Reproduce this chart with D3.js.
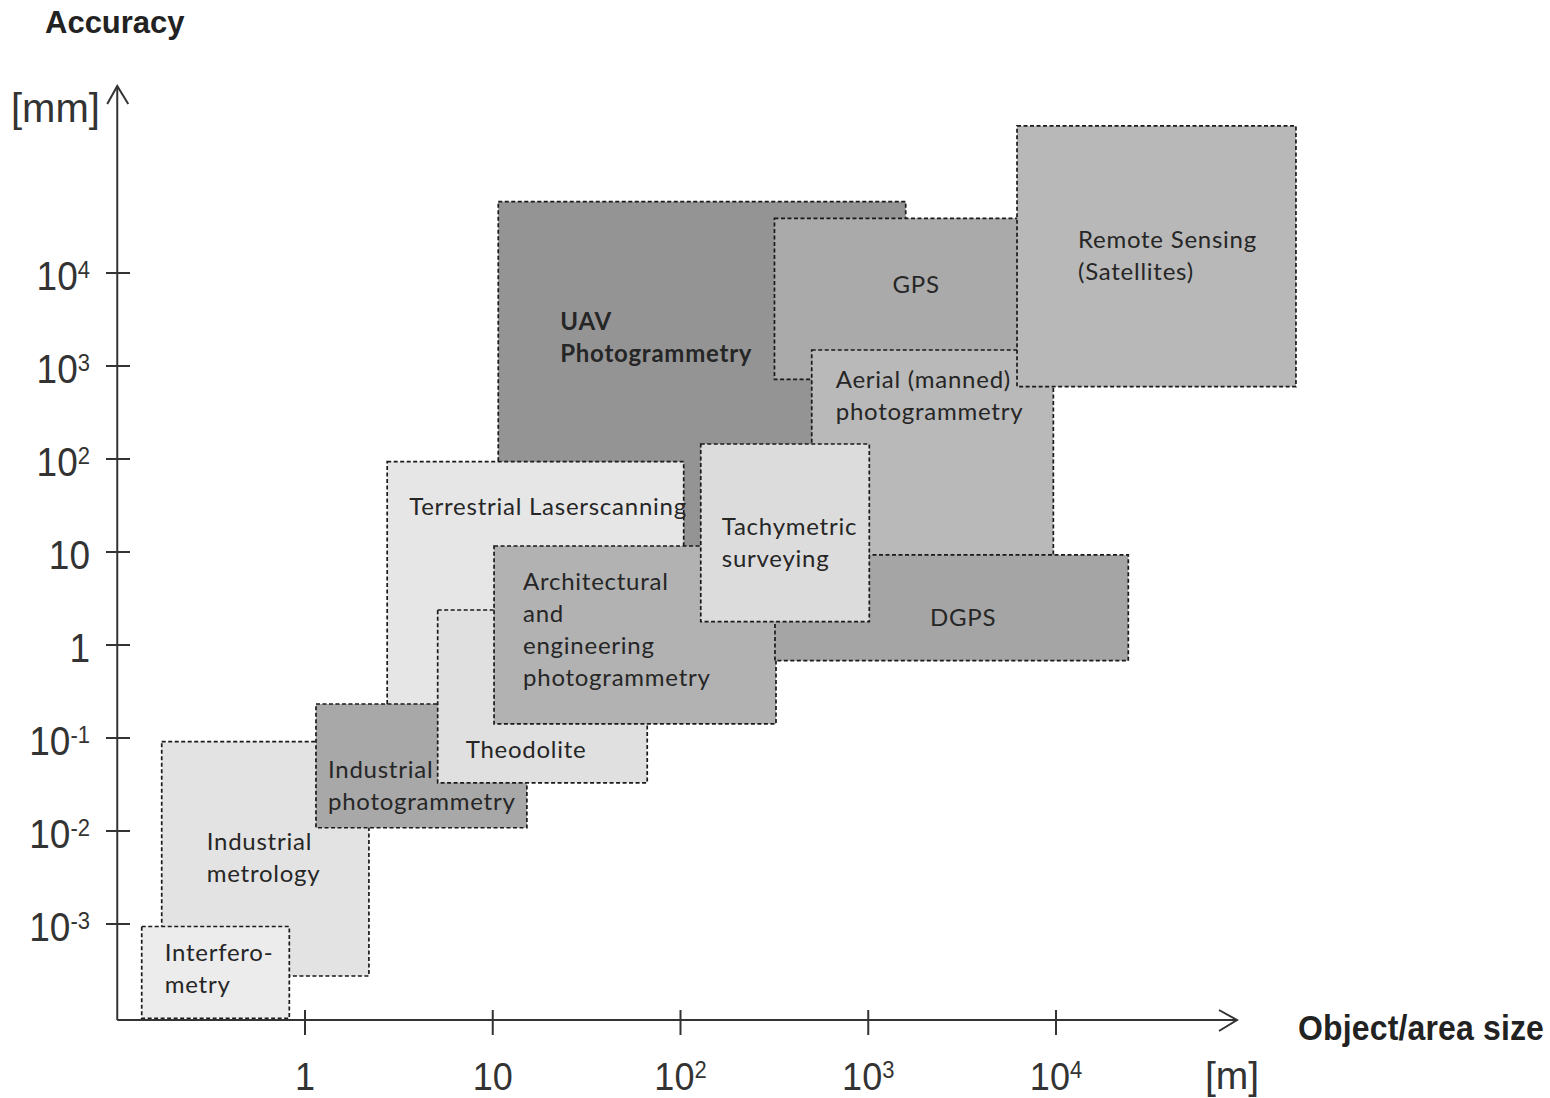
<!DOCTYPE html>
<html><head><meta charset="utf-8">
<script src="https://cdn.jsdelivr.net/npm/d3@7"></script>
<style>
html,body{margin:0;padding:0;background:#fff;}
svg{display:block;}
</style></head>
<body>
<svg id="chart" width="1550" height="1098"></svg>
<script>
// ---- data ----
const categories = ["UAV Photogrammetry","Terrestrial Laserscanning","Industrial metrology","Interferometry",
  "Industrial photogrammetry","Theodolite","Architectural and engineering photogrammetry","GPS",
  "Aerial (manned) photogrammetry","DGPS","Remote Sensing (Satellites)","Tachymetric surveying"];
// object/area size range [m]
const sizeFrom = [10.7, 2.74, 0.1725, 0.135, 1.144, 5.09, 10.16, 316.6, 500, 318.6, 6200, 128.2];
const sizeTo   = [1583, 104, 2.19, 0.825, 15.2, 66.5, 322.6, 8220, 9680, 24270, 189700, 1013];
// accuracy range [mm]
const accFrom  = [3.05, 0.19, 0.000276, 0.000097, 0.01084, 0.033, 0.1416, 719, 3.05, 0.678, 599, 1.78];
const accTo    = [58500, 93.5, 0.0912, 0.00094, 0.232, 2.38, 11.6, 38730, 1486, 9.29, 381000, 145];
// box label lines
const labelLines = [["UAV","Photogrammetry"],["Terrestrial Laserscanning"],["Industrial","metrology"],["Interfero-","metry"],
  ["Industrial","photogrammetry"],["Theodolite"],["Architectural","and","engineering","photogrammetry"],["GPS"],
  ["Aerial (manned)","photogrammetry"],["DGPS"],["Remote Sensing","(Satellites)"],["Tachymetric","surveying"]];
// ticks
const xTickValues = [1, 10, 100, 1000, 10000];
const xTickBase = ["1","10","10","10","10"];
const xTickSup  = ["","","2","3","4"];
const yTickValues = [0.001, 0.01, 0.1, 1, 10, 100, 1000, 10000];
const yTickBase = ["10","10","10","1","10","10","10","10"];
const yTickSup  = ["-3","-2","-1","","","2","3","4"];

// ---- styles (not data) ----
const fills = ["#949494","#e6e6e6","#e3e3e3","#ececec","#a8a8a8","#e0e0e0","#b2b2b2","#aaaaaa","#b9b9b9","#a5a5a5","#b8b8b8","#dcdcdc"];
const boldLabel = [true,false,false,false,false,false,false,false,false,false,false,false];
// label offset (px) from the box's top-left corner: left edge of text, centre of first line
const labelOffset = [[62,119],[22,44],[45,99],[23,25],[12,64],[28,139],[29,34],[118,65],[24,28],[155,62],[61,113],[21,82]];

const svg = d3.select("#chart");
const x = d3.scaleLog().domain([1, 10000]).range([305, 1056]);
const y = d3.scaleLog().domain([0.001, 10000]).range([924, 273]);

const axisY0 = 1020, axisX0 = x(0.1);

// boxes
const boxes = categories.map((c,i)=>({c,i,x0:x(sizeFrom[i]),x1:x(sizeTo[i]),y0:y(accTo[i]),y1:y(accFrom[i])}));
const g = svg.append("g");
boxes.forEach(b=>{
  g.append("rect").attr("x",b.x0).attr("y",b.y0).attr("width",b.x1-b.x0).attr("height",b.y1-b.y0)
    .attr("fill",fills[b.i]).attr("stroke","#1a1a1a").attr("stroke-width",1.7).attr("stroke-dasharray","4,2.5");
  const t = g.append("text").attr("font-family","Lato, 'Open Sans', sans-serif").attr("font-size",24)
    .attr("letter-spacing","0.75px").attr("fill","#262626").attr("font-weight",boldLabel[b.i]?"bold":"normal");
  labelLines[b.i].forEach((ln,k)=>{
    t.append("tspan").attr("x",b.x0+labelOffset[b.i][0]).attr("y",b.y0+labelOffset[b.i][1]+k*32)
      .attr("dominant-baseline","central").text(ln);
  });
});

// axes
const ax = svg.append("g").attr("stroke","#333").attr("stroke-width",2).attr("fill","none");
ax.append("line").attr("x1",axisX0).attr("x2",1237).attr("y1",axisY0).attr("y2",axisY0);
ax.append("polyline").attr("points",`1219,1010 1237,${axisY0} 1219,1031`);
ax.append("line").attr("x1",axisX0).attr("x2",axisX0).attr("y1",axisY0).attr("y2",86);
ax.append("polyline").attr("points",`${axisX0-10},104 ${axisX0},86 ${axisX0+11},104`);

xTickValues.forEach((v,i)=>{
  ax.append("line").attr("x1",x(v)).attr("x2",x(v)).attr("y1",1010).attr("y2",1035);
  const t = svg.append("text").attr("transform",`translate(${x(v)},1090) scale(1,1.1)`)
    .attr("text-anchor","middle").attr("font-family","'Liberation Sans', Arial, sans-serif").attr("font-size",36).attr("fill","#333");
  t.append("tspan").text(xTickBase[i]);
  if (xTickSup[i]) t.append("tspan").attr("font-size",22).attr("dy",-10.5).text(xTickSup[i]);
});
yTickValues.forEach((v,i)=>{
  ax.append("line").attr("x1",106).attr("x2",130).attr("y1",y(v)).attr("y2",y(v));
  const t = svg.append("text").attr("transform",`translate(90,${y(v)+17}) scale(1,1.12)`)
    .attr("text-anchor","end").attr("font-family","'Liberation Sans', Arial, sans-serif").attr("font-size",37).attr("fill","#333");
  t.append("tspan").text(yTickBase[i]);
  if (yTickSup[i]) t.append("tspan").attr("font-size",22).attr("dy",-10.5).text(yTickSup[i]);
});

// axis titles
svg.append("text").attr("x",45).attr("y",33).attr("font-family","'Liberation Sans', Arial, sans-serif")
  .attr("font-weight","bold").attr("font-size",31).attr("fill","#222").text("Accuracy");
svg.append("text").attr("x",11).attr("y",122).attr("font-family","'Liberation Sans', Arial, sans-serif")
  .attr("font-size",40).attr("fill","#333").text("[mm]");
svg.append("text").attr("transform","translate(1298,1040) scale(1,1.12)").attr("font-family","'Liberation Sans', Arial, sans-serif")
  .attr("font-weight","bold").attr("font-size",32).attr("letter-spacing","0.15px").attr("fill","#222").text("Object/area size");
svg.append("text").attr("x",1205).attr("y",1089).attr("font-family","'Liberation Sans', Arial, sans-serif")
  .attr("font-size",39).attr("fill","#333").text("[m]");
</script>
</body></html>
